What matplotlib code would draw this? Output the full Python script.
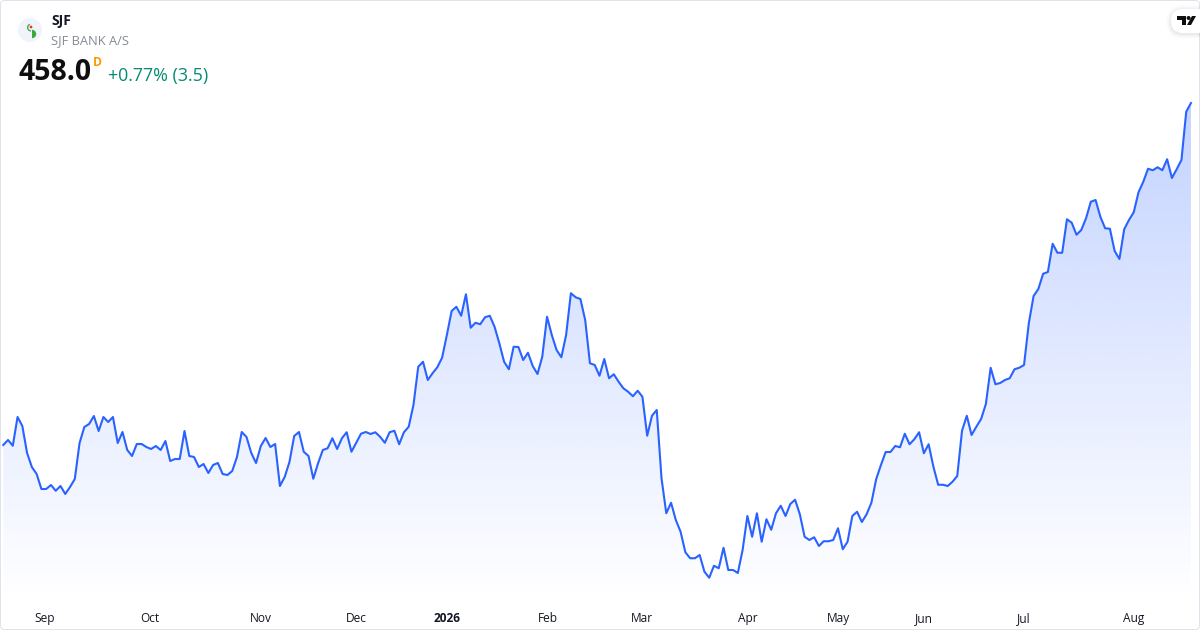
import matplotlib
matplotlib.use("Agg")
import matplotlib.pyplot as plt
from matplotlib.colors import LinearSegmentedColormap
from matplotlib.patches import Circle, FancyBboxPatch, Polygon, Wedge
import numpy as np

# prices (one per trading day)
prices = [
    321.2, 323.2, 320.9, 332.4, 328.8, 318.0, 312.4, 309.6, 303.6, 303.6,
    305.2, 302.9, 304.8, 301.6, 304.4, 307.6, 322.0, 328.4, 329.6, 332.8,
    326.8, 332.4, 330.4, 332.4, 322.0, 326.4, 319.2, 316.8, 321.6, 321.6,
    320.4, 319.6, 320.8, 319.2, 322.8, 314.8, 315.6, 315.6, 326.8, 316.8,
    316.4, 312.4, 313.6, 310.0, 313.2, 314.0, 309.6, 309.2, 310.8, 316.4,
    326.4, 324.4, 318.0, 314.0, 320.8, 324.0, 320.4, 321.6, 304.8, 308.4,
    314.4, 324.8, 326.4, 318.5, 316.8, 307.7, 313.9, 319.2, 319.9, 323.9,
    319.6, 323.9, 326.3, 318.5, 322.1, 325.7, 326.4, 325.6, 326.3, 324.5,
    322.1, 326.3, 326.9, 321.5, 326.3, 328.5, 337.2, 352.5, 354.5, 347.2,
    349.9, 352.3, 356.1, 365.2, 374.8, 376.5, 372.9, 381.5, 368.1, 370.1,
    369.5, 372.3, 372.9, 368.5, 361.9, 354.5, 351.5, 360.5, 360.4, 355.2,
    358.1, 352.8, 349.6, 356.5, 372.5, 365.2, 359.2, 356.3, 365.2, 381.9,
    380.3, 379.6, 371.2, 353.9, 353.2, 348.9, 355.6, 347.9, 349.5, 346.5,
    343.9, 342.5, 340.7, 342.9, 340.5, 324.9, 332.9, 335.2, 307.9, 293.9,
    298.1, 291.2, 286.5, 278.3, 275.9, 275.9, 277.2, 270.5, 268.1, 272.9,
    271.9, 280.1, 271.2, 271.2, 270.0, 279.2, 292.8, 284.5, 293.9, 282.5,
    291.5, 287.3, 293.9, 296.9, 292.8, 297.6, 299.3, 293.5, 284.5, 283.2,
    284.3, 280.8, 282.7, 282.7, 283.2, 287.9, 279.5, 282.5, 292.8, 294.5,
    290.4, 293.5, 298.1, 307.5, 313.2, 318.4, 318.4, 320.8, 320.3, 325.7,
    321.5, 323.5, 326.3, 317.9, 321.5, 312.5, 305.3, 305.3, 304.8, 306.5,
    308.8, 326.9, 332.9, 325.2, 328.5, 331.6, 337.6, 352.1, 345.5, 346.0,
    347.2, 347.9, 351.5, 352.1, 353.2, 369.9, 380.8, 383.6, 389.7, 390.4,
    401.7, 398.1, 398.1, 411.5, 410.1, 405.3, 407.2, 411.9, 418.5, 419.2,
    412.5, 407.9, 407.7, 398.8, 395.6, 407.5, 411.2, 414.3, 422.3, 426.5,
    431.7, 431.1, 432.3, 431.1, 435.5, 428.0, 431.5, 435.2, 454.5, 458.0,
]
month_pos = [8.7, 30.8, 54, 74, 93, 114.2, 134, 156, 175, 193, 214, 237]
month_labels = ["Sep", "Oct", "Nov", "Dec", "2026", "Feb", "Mar", "Apr", "May", "Jun", "Jul", "Aug"]

plt.rcParams['font.family'] = ['Open Sans', 'DejaVu Sans']

W, H = 1200, 630
AXIS_H = 30
XLIM = (-0.68, 250.89)
YLIM = (259.2, 499.2)
fig = plt.figure(figsize=(W / 100, H / 100), dpi=100, facecolor='white')

# price pane, x axis strip underneath
ax = fig.add_axes([0, AXIS_H / H, 1, 1 - AXIS_H / H])
ax.patch.set_alpha(0)
for s in ax.spines.values():
    s.set_visible(False)

x = np.arange(len(prices))
y = np.array(prices)

# area under the line, fades from the top of the series to the bottom of the pane
cmap = LinearSegmentedColormap.from_list("area", [(41/255, 98/255, 255/255, 0.28), (41/255, 98/255, 255/255, 0.0)])
grad = ax.imshow(np.linspace(0, 1, 256).reshape(-1, 1), cmap=cmap, aspect='auto',
                 extent=[x[0], x[-1], YLIM[0], y.max()], origin='upper', zorder=1,
                 interpolation='bilinear')
ax.set_xlim(*XLIM)
ax.set_ylim(*YLIM)
verts = [(x[0], YLIM[0])] + list(zip(x, y)) + [(x[-1], YLIM[0])]
clip = Polygon(verts, closed=True, transform=ax.transData, facecolor='none', edgecolor='none')
ax.add_patch(clip)
grad.set_clip_path(clip)

ax.plot(x, y, color='#2962FF', lw=1.5, solid_joinstyle='round', zorder=2)

ax.set_yticks([])
ax.set_xticks(month_pos)
ax.set_xticklabels(month_labels, fontsize=8.6, color='#131722')
ax.tick_params(axis='x', length=0, pad=15.6)
for lbl in ax.get_xticklabels():
    lbl.set_verticalalignment('baseline')
ax.get_xticklabels()[month_labels.index("2026")].set_fontweight('bold')

# overlay in pixel coordinates for header, logos and frame
ov = fig.add_axes([0, 0, 1, 1], facecolor='none')
ov.axis('off')

ov.add_patch(FancyBboxPatch((0.5, 0.5), W - 1, H - 1, boxstyle="round,pad=0,rounding_size=4",
                            facecolor='none', edgecolor='#E0E3EB', lw=0.72))

# symbol logo
ov.add_patch(Circle((30, 30), 12, facecolor='#F0F3FA', edgecolor='none'))
ov.add_patch(Wedge((32, 34), 4.2, 270, 90, facecolor='#3BA935', edgecolor='none'))
ov.add_patch(Wedge((31, 27.5), 4, 90, 250, width=1.3, facecolor='#3BA935', edgecolor='none'))
ov.add_patch(Circle((31, 27), 1.4, facecolor='#E53935', edgecolor='none'))

# header text
ov.text(51, 21.5, "SJF", fontsize=10, fontweight='bold', color='#131722', va='center', ha='left')
ov.text(51, 41, "SJF BANK A/S", fontsize=9.3, color='#878B94', va='center', ha='left')
ov.text(18.5, 72, "458.0", fontsize=20.4, fontweight='bold', color='#0F0F0F', va='center', ha='left')
ov.text(93, 62, "D", fontsize=8.7, fontweight='bold', color='#FF9800', va='center', ha='left')
ov.text(108, 75.5, "+0.77% (3.5)", fontsize=12.9, color='#058A73', va='center', ha='left')

# TradingView badge
for pad, a in [(5, 0.008), (4, 0.012), (3, 0.016), (2, 0.02), (1, 0.025)]:
    ov.add_patch(FancyBboxPatch((1171 - pad, 9 - pad + 1), 60 + 2 * pad, 24 + 2 * pad,
                                boxstyle="round,pad=0,rounding_size=%d" % (12 + pad),
                                facecolor='black', edgecolor='none', alpha=a))
ov.add_patch(FancyBboxPatch((1171, 9), 60, 24, boxstyle="round,pad=0,rounding_size=12",
                            facecolor='white', edgecolor='none'))
ov.add_patch(Polygon([(1177, 16), (1186, 16), (1186, 25), (1182, 25), (1182, 20), (1177, 20)],
                     facecolor='#0F0F0F', edgecolor='none'))
ov.add_patch(Circle((1188.6, 18), 2, facecolor='#0F0F0F', edgecolor='none'))
ov.add_patch(Polygon([(1192, 16), (1196, 16), (1191, 25), (1187, 25)], facecolor='#0F0F0F', edgecolor='none'))
ov.set_xlim(0, W)
ov.set_ylim(H, 0)

fig.savefig("out.png", dpi=100, facecolor='white')
